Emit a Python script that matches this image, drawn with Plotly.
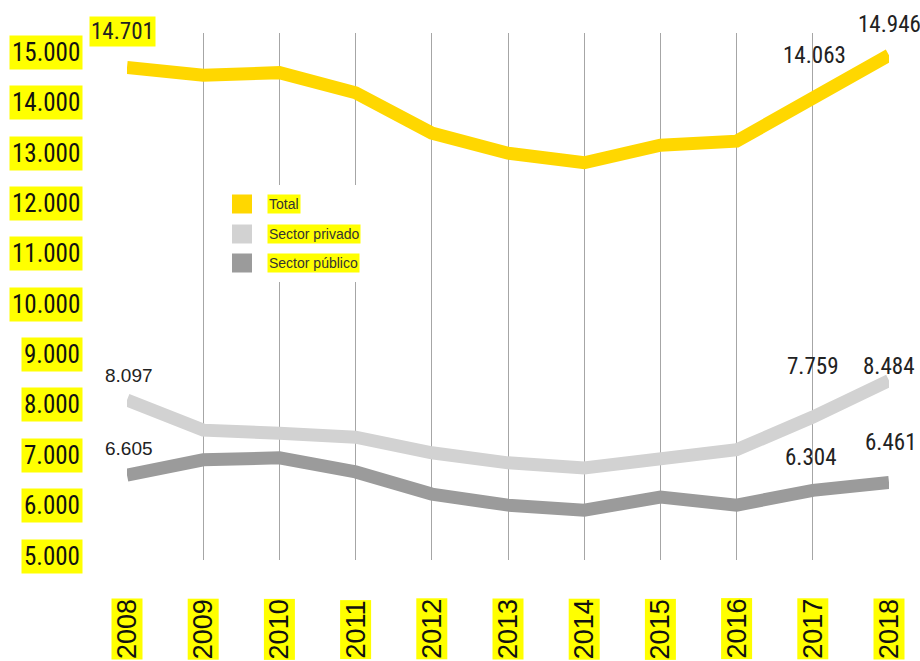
import plotly.graph_objects as go

# Employment series, 2008-2018
years = [2008, 2009, 2010, 2011, 2012, 2013, 2014, 2015, 2016, 2017, 2018]
total = [14701, 14550, 14600, 14200, 13400, 13000, 12810, 13160, 13240, 14063, 14946]
privado = [8097, 7500, 7440, 7360, 7050, 6850, 6750, 6910, 7110, 7759, 8484]
publico = [6605, 6910, 6950, 6670, 6230, 6010, 5910, 6170, 6010, 6304, 6461]

series_names = ["Total", "Sector privado", "Sector público"]
series_colors = ["#FFD700", "#D2D2D2", "#9B9B9B"]

y_ticks = [15000, 14000, 13000, 12000, 11000, 10000, 9000, 8000, 7000, 6000, 5000]
y_tick_labels = ["15.000", "14.000", "13.000", "12.000", "11.000", "10.000",
                 "9.000", "8.000", "7.000", "6.000", "5.000"]

# Labelled points: (series, year index, x shift px, y shift px, highlighted)
value_labels = [
    ("total", 0, -5, 36, True),
    ("total", 9, 2, 44, False),
    ("total", 10, 0, 31, False),
    ("privado", 0, 2, 25, False),
    ("privado", 9, 0, 51, False),
    ("privado", 10, -1, 14, False),
    ("publico", 0, 2, 27, False),
    ("publico", 9, -2, 33, False),
    ("publico", 10, 1, 40, False),
]

W, H = 920, 661
L, R, T, B = 127, 31, 33, 101
PW, PH = W - L - R, H - T - B

HIGHLIGHT = "#FFFF00"
NARROW = "Liberation Sans Narrow, Roboto Condensed, DejaVu Sans Condensed, sans-serif"
REGULAR = "Liberation Sans, Arial, sans-serif"


def px_x(px):
    return (px - L) / PW


def px_y(py):
    return (H - B - py) / PH


def fmt(v):
    return f"{v:,}".replace(",", ".")


data = {"total": total, "privado": privado, "publico": publico}

fig = go.Figure()
for key, name, color in zip(["publico", "privado", "total"],
                            series_names[::-1], series_colors[::-1]):
    fig.add_trace(go.Scatter(
        x=years, y=data[key], mode="lines", name=name,
        line=dict(color=color, width=13), showlegend=False,
        hoverinfo="x+y",
    ))

annotations = []

# y-axis value labels with highlighter background
for v, txt in zip(y_ticks, y_tick_labels):
    annotations.append(dict(
        x=years[0], y=v, xref="x", yref="y", text=txt, showarrow=False,
        xanchor="right", yanchor="middle", xshift=-44,
        font=dict(family=NARROW, size=25, color="#111111"),
        bgcolor=HIGHLIGHT, borderpad=2,
    ))

# rotated year labels below the plot
for yr in years:
    annotations.append(dict(
        x=yr, y=px_y(660), xref="x", yref="paper", text=str(yr),
        showarrow=False, textangle=-90, xanchor="center", yanchor="bottom",
        font=dict(family=REGULAR, size=27, color="#111111"),
        bgcolor=HIGHLIGHT, borderpad=0,
    ))

# point value labels
for key, i, dx, dy, hl in value_labels:
    v = data[key][i]
    fam = REGULAR if (i == 0 and key != "total") else NARROW
    size = 19 if fam == REGULAR else 23
    annotations.append(dict(
        x=years[i], y=v, xref="x", yref="y", text=fmt(v), showarrow=False,
        xanchor="center", yanchor="middle", xshift=dx, yshift=dy,
        font=dict(family=fam, size=size, color="#222222"),
        bgcolor=HIGHLIGHT if hl else "rgba(0,0,0,0)", borderpad=1,
    ))

# legend block
shapes = [dict(type="rect", xref="paper", yref="paper",
               x0=px_x(215), x1=px_x(382), y0=px_y(282), y1=px_y(185),
               fillcolor="white", line=dict(width=0), layer="above")]
legend_rows = [204, 234, 263]
for name, color, cy in zip(series_names, series_colors, legend_rows):
    shapes.append(dict(type="rect", xref="paper", yref="paper",
                       x0=px_x(232), x1=px_x(252), y0=px_y(cy + 9.5), y1=px_y(cy - 9.5),
                       fillcolor=color, line=dict(width=0), layer="above"))
    annotations.append(dict(
        x=px_x(267), y=px_y(cy), xref="paper", yref="paper", text=name,
        showarrow=False, xanchor="left", yanchor="middle",
        font=dict(family=REGULAR, size=14, color="#333333"),
        bgcolor=HIGHLIGHT, borderpad=1,
    ))

# 15.000 sits at 52.5 px and 5.000 at 556 px
ppu = (556 - 52.5) / 10000
y_top = 15000 + (52.5 - T) / ppu
y_bot = 5000 - ((H - B) - 556) / ppu

fig.update_layout(
    width=W, height=H,
    margin=dict(l=L, r=R, t=T, b=B, pad=0),
    paper_bgcolor="white", plot_bgcolor="white",
    xaxis=dict(range=[years[0], years[-1]], tickvals=years, showticklabels=False,
               showgrid=True, gridcolor="#A6A6A6", gridwidth=1, zeroline=False,
               showline=False, ticks=""),
    yaxis=dict(range=[y_bot, y_top], showticklabels=False, showgrid=False,
               zeroline=False, showline=False, ticks=""),
    annotations=annotations, shapes=shapes,
)

fig.write_html("out.html")
